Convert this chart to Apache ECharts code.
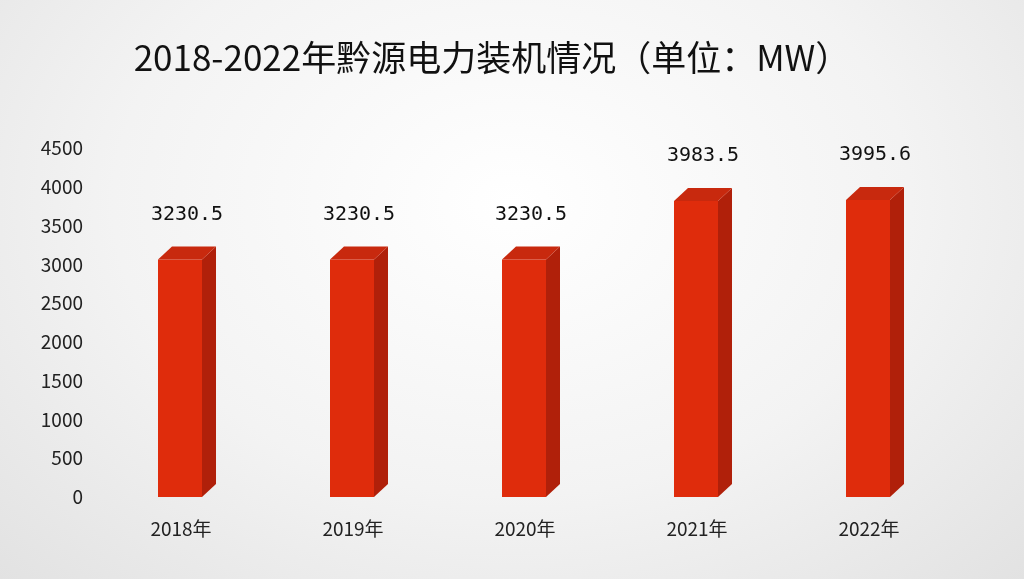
<!DOCTYPE html>
<html><head><meta charset="utf-8">
<script src="https://cdn.jsdelivr.net/npm/echarts@6/dist/echarts.min.js"></script>
<style>html,body{margin:0;padding:0;}#c{width:1024px;height:579px;background:radial-gradient(ellipse at 50% 35%,#ffffff 0%,#f3f3f3 55%,#e2e2e2 100%);}</style>
</head><body><div id="c"></div>
<script>
const categories = ['2018年','2019年','2020年','2021年','2022年'];
const values = [3230.5, 3230.5, 3230.5, 3983.5, 3995.6];
const yTicks = [0,500,1000,1500,2000,2500,3000,3500,4000,4500];

const chart = echarts.init(document.getElementById('c'));
const W = 44, D = 14, R = 13;
chart.setOption({
  title:{text:'2018-2022年黔源电力装机情况（单位：MW）',left:487,top:35,textAlign:'center',
    textStyle:{fontFamily:'Noto Sans CJK SC',fontSize:35,fontWeight:'normal',color:'#111'}},
  grid:{left:95,right:69,top:148,bottom:82},
  xAxis:{type:'category',data:categories,axisLine:{show:false},axisTick:{show:false},
    axisLabel:{fontSize:19,color:'#222',margin:22,fontFamily:'Noto Sans CJK SC'}},
  yAxis:{type:'value',min:0,max:4500,interval:500,splitLine:{show:false},
    axisLabel:{fontSize:19,color:'#222',margin:12,fontFamily:'Noto Sans CJK SC',formatter:v=>String(v)}},
  series:[{type:'custom',data:values.map((v,i)=>[i,v]),
    renderItem:function(params,api){
      const p = api.coord([api.value(0),api.value(1)]);
      const b = api.coord([api.value(0),0]);
      const x0 = p[0]-W/2-1, x1 = x0+W, yt = p[1]+R, yb = b[1];
      return {type:'group',children:[
        {type:'rect',shape:{x:x0,y:yt,width:W,height:yb-yt},style:{fill:'#df2c0c'}},
        {type:'polygon',shape:{points:[[x1,yt],[x1+D,yt-R],[x1+D,yb-R],[x1,yb]]},style:{fill:'#b0200a'}},
        {type:'polygon',shape:{points:[[x0,yt],[x0+D,yt-R],[x1+D,yt-R],[x1,yt]]},style:{fill:'#c8290e'}},
        {type:'text',style:{text:String(api.value(1)),x:p[0]+6,y:p[1]-32,textAlign:'center',textVerticalAlign:'middle',
          fontSize:20,fill:'#111',fontFamily:'DejaVu Sans Mono'}}
      ]};
    }}]
});
</script></body></html>
